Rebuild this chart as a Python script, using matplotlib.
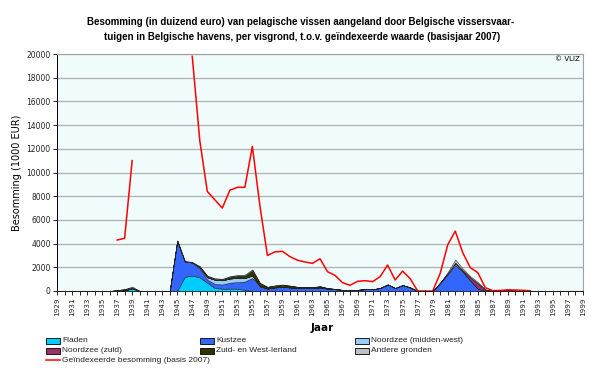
import numpy as np
import matplotlib
matplotlib.use("Agg")
import matplotlib.pyplot as plt
from matplotlib.patches import Rectangle
from matplotlib.lines import Line2D

nan = np.nan
years = list(range(1929, 2000))

fladen = ([0]*8 + [0, 50, 200] + [0]*5 +
          [0, 1200, 1300, 1150, 700, 250, 200, 200, 200, 100] + [0]*45)
kustzee = ([0]*10 + [50] + [0]*5 +
           [4250, 1300, 1100, 750, 250, 350, 350, 500, 550, 700, 1100, 400, 200, 300,
            350, 300, 250, 250, 250, 300, 200, 150, 80, 50, 100, 150, 150, 250, 550,
            250, 500, 300, 0, 0, 0, 700, 1400, 2200, 1600, 900, 200, 0] + [0]*13)
noordzee_mw = ([0]*19 + [100, 200, 350, 350, 350, 350, 300, 200] + [0]*25 +
               [100, 150, 50] + [0]*16)
noordzee_zuid = [0]*54 + [100, 250, 450, 100, 0, 0, 70, 30] + [0]*9
zuid_west_ierland = ([0]*8 + [80, 100, 50] + [0]*8 +
                     [50, 100, 80, 80, 150, 200, 200, 450, 250, 150, 150, 150, 150, 100,
                      100, 80, 100, 50, 30, 20] + [0]*14 + [50] + [0]*17)
andere = ([0]*10 + [80] + [0]*6 +
          [50, 50, 50, 50, 50, 50, 50, 50, 80, 80, 50, 0, 30, 50] + [0]*21 +
          [100, 250, 150, 100, 100, 50] + [0]*13)
geindexeerd = ([nan]*8 + [4300, 4450, 11000] + [nan]*7 +
               [19800, 12700, 8400, 7700, 7000, 8500, 8750, 8750, 12200, 7200, 3000, 3300,
                3350, 2900, 2600, 2450, 2330, 2720, 1630, 1320, 700, 480, 820, 870, 790,
                1210, 2190, 930, 1680, 1040, 0, 0, 0, 1500, 3900, 5050, 3230, 1970, 1550,
                280, 30, 50, 100, 80, 60, 20] + [nan]*7)

names = ["Fladen", "Kustzee", "Noordzee (midden-west)", "Noordzee (zuid)",
         "Zuid- en West-Ierland", "Andere gronden"]
colors = ["#00CCFF", "#3366FF", "#99CCFF", "#993366", "#333300", "#C0C0C0"]
line_name = "Geïndexeerde besomming (basis 2007)"

plt.rcParams['font.family'] = ['DejaVu Sans']
NARROW = ['Liberation Sans', 'DejaVu Sans']

W, H = 600, 368
fig = plt.figure(figsize=(6, 3.68), dpi=100)
ax = fig.add_axes([57/W, 1-291/H, (583-57)/W, (291-54)/H])
ax.set_facecolor("#F0FBFB")

ax.stackplot(years, fladen, kustzee, noordzee_mw, noordzee_zuid, zuid_west_ierland,
             andere, colors=colors, edgecolor="#202020", linewidth=0.35, zorder=3)
ax.plot(years, geindexeerd, color="#FF0000", lw=1.1, zorder=4)

ax.set_xlim(1929, 1999)
ax.set_ylim(0, 20000)
ax.set_yticks(range(0, 20001, 2000))
ax.yaxis.grid(True, color="#B0B0B0", lw=0.9, zorder=0)
ax.set_axisbelow(True)
ax.set_xticks(years)
ax.set_xticklabels([str(y) if (y - 1929) % 2 == 0 else "" for y in years],
                   rotation=90, fontsize=5.2, color="#222222")
ax.tick_params(axis="y", labelsize=5.5, length=3, width=0.6, pad=1.5, labelcolor="#222222")
ax.tick_params(axis="x", length=3, width=0.6, pad=1.5)
for s in ["top", "right"]:
    ax.spines[s].set_color("#A0A0A0")
    ax.spines[s].set_linewidth(0.8)
for s in ["left", "bottom"]:
    ax.spines[s].set_color("#000000")
    ax.spines[s].set_linewidth(0.7)

ax.set_ylabel("Besomming (1000 EUR)", fontsize=7, labelpad=3)
fig.text(322/W, 1-328/H, "Jaar", fontsize=7.5, fontweight="bold", ha="center", va="center")
fig.text(301/W, 1-22/H,
         "Besomming (in duizend euro) van pelagische vissen aangeland door Belgische vissersvaar-",
         fontsize=7, fontweight="bold", ha="center", va="center", family=NARROW)
fig.text(302/W, 1-37/H,
         "tuigen in Belgische havens, per visgrond, t.o.v. geïndexeerde waarde (basisjaar 2007)",
         fontsize=7, fontweight="bold", ha="center", va="center", family=NARROW)
fig.text(580/W, 1-59/H, "© VLIZ", fontsize=5, ha="right", va="center")

# legend
pos = [(46, 341), (200, 341), (355, 341), (46, 350.5), (200, 350.5), (355, 350.5)]
for (px, py), nm, c in zip(pos, names, colors):
    fig.patches.append(Rectangle((px/W, 1-(py+3)/H), 14/W, 6/H, transform=fig.transFigure,
                                 facecolor=c, edgecolor="black", lw=0.6))
    fig.text((px+16)/W, 1-py/H, nm, fontsize=6, ha="left", va="center", color="#222222",
             family=NARROW)
fig.lines.append(Line2D([46/W, 60/W], [1-360/H, 1-360/H], transform=fig.transFigure,
                        color="#FF0000", lw=1.1))
fig.text(62/W, 1-360/H, line_name, fontsize=6, ha="left", va="center", color="#222222",
         family=NARROW)

fig.savefig("out.png", dpi=100)
